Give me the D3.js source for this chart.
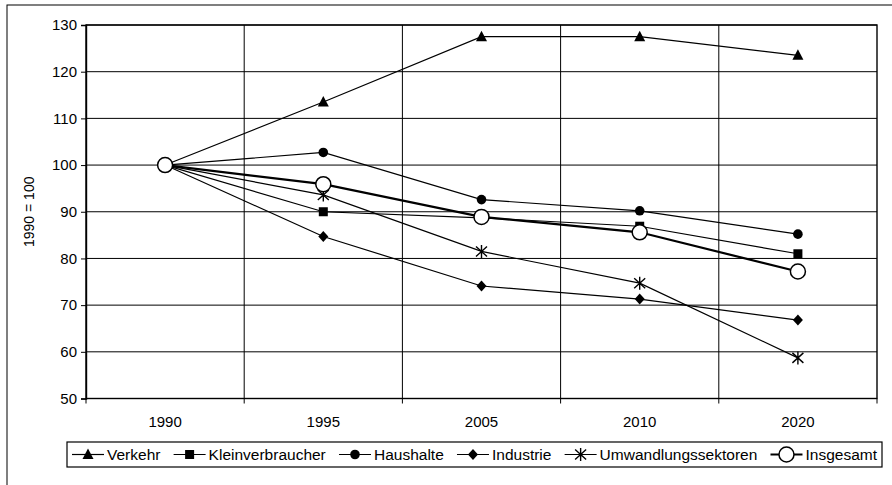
<!DOCTYPE html>
<html>
<head>
<meta charset="utf-8">
<script src="https://cdn.jsdelivr.net/npm/d3@7"></script>
<style>
  body { margin: 0; background: #fff; }
  svg { display: block; font-family: Arial, "Liberation Sans", sans-serif; }
</style>
</head>
<body>
<svg id="chart" width="892" height="485"></svg>
<script>
// ---- data ----
const years = ["1990", "1995", "2005", "2010", "2020"];
const yTicks = [50, 60, 70, 80, 90, 100, 110, 120, 130];

const verkehr = [100, 113.5, 127.5, 127.5, 123.5];
const kleinverbraucher = [100, 90, 88.7, 86.9, 81];
const haushalte = [100, 102.7, 92.6, 90.2, 85.2];
const industrie = [100, 84.7, 74.1, 71.3, 66.8];
const umwandlung = [100, 93.6, 81.5, 74.7, 58.7];
const insgesamt = [100, 95.9, 88.9, 85.6, 77.2];

const seriesNames = ["Verkehr", "Kleinverbraucher", "Haushalte", "Industrie", "Umwandlungssektoren", "Insgesamt"];
const seriesValues = [verkehr, kleinverbraucher, haushalte, industrie, umwandlung, insgesamt];
const seriesMarkers = ["triangle", "square", "dot", "diamond", "star", "ring"];

// ---- layout ----
const PLOT = { left: 86, right: 877, top: 25, bottom: 398.5 };
const FONT = 15;

const svg = d3.select("#chart");

// outer frame of the whole chart (bottom/right run off the page)
svg.append("rect")
  .attr("x", 7).attr("y", 5)
  .attr("width", 920).attr("height", 520)
  .attr("fill", "none").attr("stroke", "#000").attr("stroke-width", 1);

const x = d3.scaleBand().domain(years).range([PLOT.left, PLOT.right]).padding(0);
const y = d3.scaleLinear().domain([50, 130]).range([PLOT.bottom, PLOT.top]);
const cx = d => x(d) + x.bandwidth() / 2;

// horizontal gridlines
svg.append("g")
  .selectAll("line")
  .data(yTicks)
  .join("line")
  .attr("x1", PLOT.left).attr("x2", PLOT.right)
  .attr("y1", d => y(d)).attr("y2", d => y(d))
  .attr("stroke", "#000").attr("stroke-width", 1);

// vertical gridlines at category boundaries
svg.append("g")
  .selectAll("line")
  .data(years.slice(1))
  .join("line")
  .attr("x1", d => x(d)).attr("x2", d => x(d))
  .attr("y1", PLOT.top).attr("y2", PLOT.bottom)
  .attr("stroke", "#000").attr("stroke-width", 1);

// plot border
svg.append("rect")
  .attr("x", PLOT.left).attr("y", PLOT.top)
  .attr("width", PLOT.right - PLOT.left).attr("height", PLOT.bottom - PLOT.top)
  .attr("fill", "none").attr("stroke", "#000").attr("stroke-width", 1.4);

// y axis
const yAxis = svg.append("g")
  .attr("transform", `translate(${PLOT.left},0)`)
  .call(d3.axisLeft(y).tickValues(yTicks).tickSize(5).tickPadding(4));
yAxis.select(".domain").attr("stroke-width", 1.4);
yAxis.selectAll("text").attr("font-size", FONT).attr("fill", "#000").attr("font-family", null);

// x axis: ticks at band edges, labels at centers
const xAxis = svg.append("g")
  .attr("transform", `translate(0,${PLOT.bottom})`);
xAxis.selectAll("line")
  .data(years.concat(["end"]))
  .join("line")
  .attr("x1", (d, i) => i < years.length ? x(d) : PLOT.right)
  .attr("x2", (d, i) => i < years.length ? x(d) : PLOT.right)
  .attr("y1", 0).attr("y2", 5)
  .attr("stroke", "#000");
xAxis.selectAll("text")
  .data(years)
  .join("text")
  .attr("x", cx)
  .attr("y", 28)
  .attr("text-anchor", "middle")
  .attr("font-size", FONT)
  .text(d => d);

// y title
svg.append("text")
  .attr("transform", `translate(34,${(PLOT.top + PLOT.bottom) / 2}) rotate(-90)`)
  .attr("text-anchor", "middle")
  .attr("font-size", 14)
  .text("1990 = 100");

// ---- marker drawing ----
function drawMarker(sel, type, px, py) {
  const g = sel.append("g").attr("transform", `translate(${px},${py})`);
  if (type === "triangle") {
    g.append("path").attr("d", "M0,-6L5.5,4.5L-5.5,4.5Z").attr("fill", "#000");
  } else if (type === "square") {
    g.append("rect").attr("x", -4.5).attr("y", -4.5).attr("width", 9).attr("height", 9).attr("fill", "#000");
  } else if (type === "dot") {
    g.append("circle").attr("r", 4.8).attr("fill", "#000");
  } else if (type === "diamond") {
    g.append("path").attr("d", "M0,-5.5L5,0L0,5.5L-5,0Z").attr("fill", "#000");
  } else if (type === "star") {
    g.append("path").attr("d", "M-5.5,-5L5.5,5M-5.5,5L5.5,-5M0,-6.5L0,6.5")
      .attr("stroke", "#000").attr("stroke-width", 1.4).attr("fill", "none");
  } else if (type === "ring") {
    g.append("circle").attr("r", 7.5).attr("fill", "#fff").attr("stroke", "#000").attr("stroke-width", 1.5);
  }
}

const line = d3.line().x((d, i) => cx(years[i])).y(d => y(d));

const seriesG = svg.append("g");
seriesValues.forEach((vals, s) => {
  const isTotal = seriesNames[s] === "Insgesamt";
  seriesG.append("path")
    .attr("d", line(vals))
    .attr("fill", "none")
    .attr("stroke", "#000")
    .attr("stroke-width", isTotal ? 2.2 : 1.2);
  vals.forEach((v, i) => drawMarker(seriesG, seriesMarkers[s], cx(years[i]), y(v)));
});

// ---- legend ----
const LEG = { x: 67, y: 442, h: 25, right: 882 };
const legend = svg.append("g");
legend.append("rect")
  .attr("x", LEG.x).attr("y", LEG.y)
  .attr("width", LEG.right - LEG.x).attr("height", LEG.h)
  .attr("fill", "#fff").attr("stroke", "#000").attr("stroke-width", 1.2);

const SYM = 32, GAP_TXT = 3, PAD = 5;
const ly = LEG.y + LEG.h / 2;

// measure labels first, then spread items so they fill the box
const items = seriesNames.map((name, s) => {
  const g = legend.append("g");
  const isTotal = name === "Insgesamt";
  g.append("line")
    .attr("x1", 0).attr("x2", SYM)
    .attr("y1", ly).attr("y2", ly)
    .attr("stroke", "#000").attr("stroke-width", isTotal ? 2 : 1.2);
  drawMarker(g, seriesMarkers[s], SYM / 2, ly);
  const t = g.append("text")
    .attr("x", SYM + GAP_TXT)
    .attr("y", ly)
    .attr("dy", "0.36em")
    .attr("font-size", 15.5)
    .text(name);
  return { g, w: SYM + GAP_TXT + t.node().getComputedTextLength() };
});
const totalW = d3.sum(items, d => d.w);
const gap = (LEG.right - LEG.x - 2 * PAD - totalW) / (items.length - 1);
let lx = LEG.x + PAD;
items.forEach(d => {
  d.g.attr("transform", `translate(${lx},0)`);
  lx += d.w + gap;
});
</script>
</body>
</html>
